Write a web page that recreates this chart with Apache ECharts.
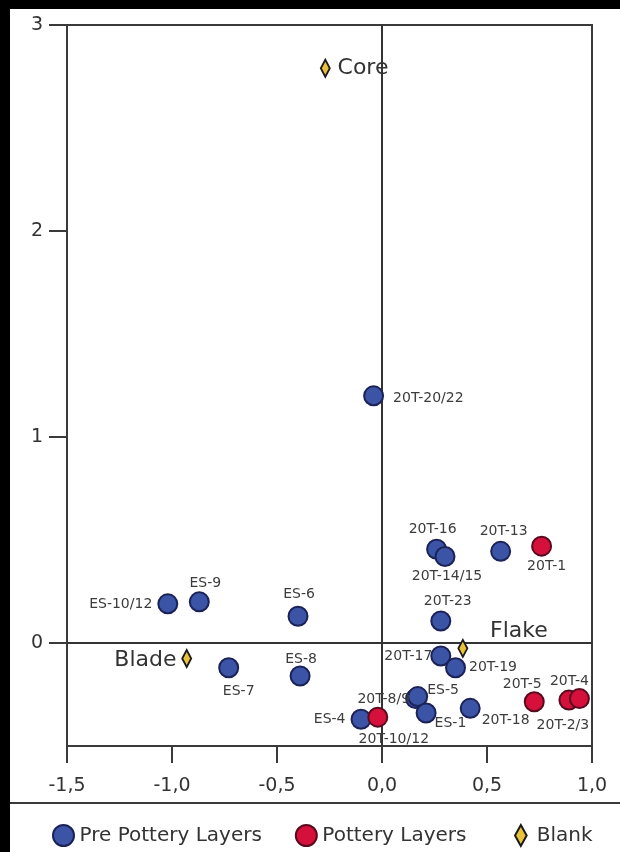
<!DOCTYPE html>
<html>
<head>
<meta charset="utf-8">
<style>
  html, body { margin: 0; padding: 0; background: #ffffff; }
  #chart { width: 620px; height: 852px; }
</style>
<script src="https://cdn.jsdelivr.net/npm/echarts@6/dist/echarts.min.js"></script>
</head>
<body>
<div id="chart"></div>
<script>
// Pre-pottery layer samples
const preNames = ['20T-20/22', '20T-16', '20T-14/15', '20T-13', '20T-23', '20T-17', '20T-19',
  '20T-8/9', 'ES-5', 'ES-1', '20T-18', 'ES-4', 'ES-10/12', 'ES-9', 'ES-6', 'ES-7', 'ES-8'];
const preX = [-0.04, 0.26, 0.30, 0.565, 0.28, 0.28, 0.35, 0.16, 0.17, 0.21, 0.42, -0.10, -1.02, -0.87, -0.40, -0.73, -0.39];
const preY = [1.20, 0.455, 0.42, 0.445, 0.107, -0.063, -0.12, -0.27, -0.26, -0.34, -0.317, -0.37, 0.19, 0.20, 0.13, -0.12, -0.16];

// Pottery layer samples
const potNames = ['20T-1', '20T-10/12', '20T-5', '20T-2/3', '20T-4'];
const potX = [0.76, -0.02, 0.725, 0.89, 0.94];
const potY = [0.47, -0.36, -0.285, -0.277, -0.27];

// Blank reference points
const blankNames = ['Core', 'Flake', 'Blade'];
const blankX = [-0.27, 0.385, -0.93];
const blankY = [2.79, -0.026, -0.075];

// Axis ticks
const xTicks = [-1.5, -1.0, -0.5, 0.0, 0.5, 1.0];
const yTicks = [0, 1, 2, 3];

// Label placement per sample: [position, offset]
const labelPlace = {
  '20T-20/22': ['right', [4, 3]],
  '20T-16': ['top', [-4, 3]],
  '20T-14/15': ['bottom', [2, -3]],
  '20T-13': ['top', [3, 3]],
  '20T-23': ['top', [7, 3]],
  '20T-17': ['left', [7, 0]],
  '20T-19': ['right', [-2, 0]],
  '20T-8/9': ['left', [10, 1]],
  'ES-5': ['right', [-6, -6]],
  'ES-1': ['right', [-7, 10]],
  '20T-18': ['right', [-4, 12]],
  'ES-4': ['left', [0, 0]],
  'ES-10/12': ['left', [0, 0]],
  'ES-9': ['top', [6, 4]],
  'ES-6': ['top', [1, 1]],
  'ES-7': ['bottom', [10, 1]],
  'ES-8': ['top', [1, 6]],
  '20T-1': ['bottom', [5, -2]],
  '20T-10/12': ['bottom', [16, 0]],
  '20T-5': ['top', [-12, 5]],
  '20T-2/3': ['bottom', [-6, 3]],
  '20T-4': ['top', [-10, 5]],
  'Core': ['right', [2, 0]],
  'Flake': ['right', [17, -17]],
  'Blade': ['left', [0, 2]]
};

const FONT = 'DejaVu Sans';

function points(names, xs, ys) {
  return names.map((n, i) => {
    const p = labelPlace[n] || ['right', [0, 0]];
    return { name: n, value: [xs[i], ys[i]], label: { position: p[0], offset: p[1] } };
  });
}

const fmtX = v => Number(v).toFixed(1).replace('.', ',');

const chart = echarts.init(document.getElementById('chart'), null, { renderer: 'canvas' });

const smallLabel = {
  show: true,
  formatter: '{b}',
  fontFamily: FONT,
  fontSize: 14,
  color: '#3c3c3c',
  distance: 5
};

const legendBase = {
  top: 819,
  itemWidth: 22, itemHeight: 21, itemGap: 33,
  textStyle: { fontFamily: FONT, fontSize: 20, color: '#333333' }
};

chart.setOption({
  backgroundColor: '#ffffff',
  animation: false,
  grid: {
    left: 67, right: 28, top: 25, bottom: 106,
    show: true, borderColor: '#3a3a3a', borderWidth: 2, backgroundColor: 'transparent'
  },
  xAxis: {
    type: 'value', min: -1.5, max: 1.0, interval: 0.5,
    splitLine: { show: false },
    axisLine: { show: true, onZero: false, lineStyle: { color: '#3a3a3a', width: 2 } },
    axisTick: { show: true, length: 17, customValues: xTicks, lineStyle: { color: '#3a3a3a', width: 2 } },
    axisLabel: {
      customValues: xTicks, formatter: fmtX, margin: 31,
      fontFamily: FONT, fontSize: 19, color: '#333333'
    }
  },
  yAxis: {
    type: 'value', min: -0.5, max: 3, interval: 0.5,
    splitLine: { show: false },
    axisLine: { show: true, onZero: false, lineStyle: { color: '#3a3a3a', width: 2 } },
    axisTick: { show: true, length: 18, customValues: yTicks, lineStyle: { color: '#3a3a3a', width: 2 } },
    axisLabel: {
      customValues: yTicks, margin: 24,
      fontFamily: FONT, fontSize: 19, color: '#333333'
    }
  },
  legend: [
    Object.assign({}, legendBase, {
      left: 47,
      data: [
        { name: 'Pre Pottery Layers', icon: 'circle' },
        { name: 'Pottery Layers', icon: 'circle' }
      ]
    }),
    Object.assign({}, legendBase, {
      left: 509,
      data: [{ name: 'Blank', icon: 'path://M5,0L10,9L5,18L0,9Z' }]
    })
  ],
  series: [
    {
      name: 'Pre Pottery Layers',
      type: 'scatter',
      symbol: 'circle',
      symbolSize: 19,
      itemStyle: { color: '#3c54a6', borderColor: '#1b2258', borderWidth: 2, opacity: 1 },
      label: smallLabel,
      data: points(preNames, preX, preY),
      markLine: {
        silent: true,
        symbol: 'none',
        label: { show: false },
        lineStyle: { color: '#333333', width: 2, type: 'solid' },
        emphasis: { disabled: true },
        data: [{ xAxis: 0 }, { yAxis: 0 }],
        z: 1
      },
      z: 3
    },
    {
      name: 'Pottery Layers',
      type: 'scatter',
      symbol: 'circle',
      symbolSize: 19,
      itemStyle: { color: '#d4103b', borderColor: '#5a0a1e', borderWidth: 2, opacity: 1 },
      label: smallLabel,
      data: points(potNames, potX, potY),
      z: 4
    },
    {
      name: 'Blank',
      type: 'scatter',
      symbol: 'diamond',
      symbolSize: [9, 17],
      itemStyle: { color: '#e8c23a', borderColor: '#1a1a1a', borderWidth: 2, opacity: 1 },
      label: {
        show: true, formatter: '{b}', fontFamily: FONT, fontSize: 22,
        color: '#333333', distance: 5
      },
      data: points(blankNames, blankX, blankY),
      z: 5
    }
  ],
  graphic: [
    { type: 'rect', shape: { x: 0, y: 0, width: 620, height: 9 }, style: { fill: '#000000' }, silent: true },
    { type: 'rect', shape: { x: 0, y: 0, width: 10, height: 852 }, style: { fill: '#000000' }, silent: true },
    { type: 'line', shape: { x1: 10, y1: 803, x2: 620, y2: 803 }, style: { stroke: '#3a3a3a', lineWidth: 2 }, silent: true }
  ]
});
</script>
</body>
</html>
